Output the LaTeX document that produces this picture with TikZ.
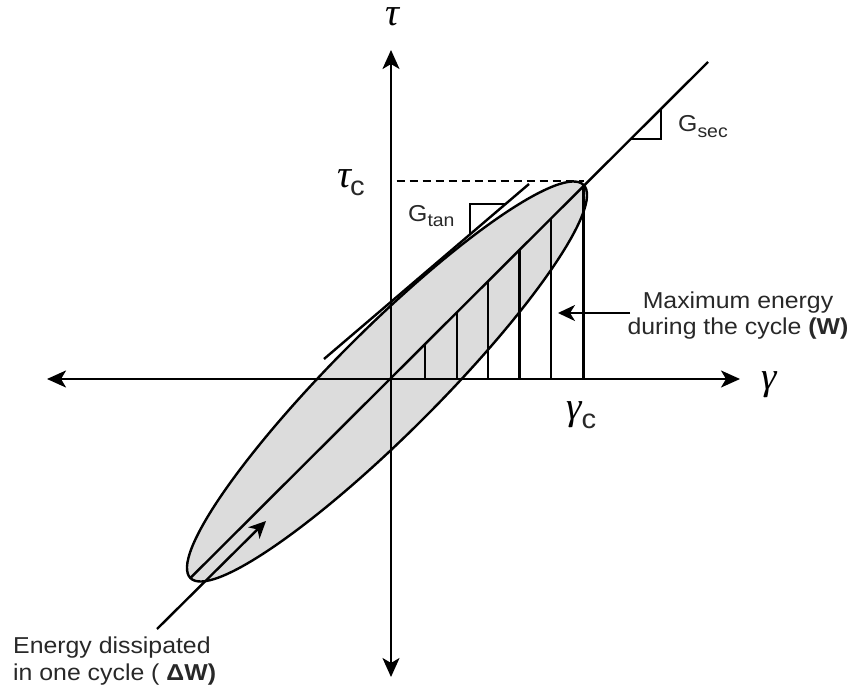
\documentclass[tikz,border=0pt]{standalone}
\usepackage{fontspec}
\setmainfont{Liberation Sans}[FakeStretch=1.08]
\newfontfamily\grk{Liberation Serif}
\usetikzlibrary{arrows.meta,calc}
\definecolor{loopfill}{RGB}{220,220,220}
\definecolor{txt}{RGB}{40,40,40}
\tikzset{
  ln/.style={line width=2.4pt, line join=miter},
  axisline/.style={ln, {Stealth[length=19pt,width=17pt,inset=5pt]}-{Stealth[length=19pt,width=17pt,inset=5pt]}},
  ptr/.style={ln, -{Stealth[length=17pt,width=16pt,inset=5pt]}},
  lbl/.style={inner sep=0pt, text=txt, font=\fontsize{23}{26.5}\selectfont},
  sym/.style={inner sep=0pt, text=black, font=\fontsize{39}{39}\selectfont\grk\itshape},
}
\newcommand{\subc}[1]{\raisebox{#1}{\fontsize{27}{27}\selectfont\normalfont\color{txt}c}}
\newcommand{\subt}[2]{\raisebox{#1}{\fontsize{18}{18}\selectfont #2}}
\begin{document}
\begin{tikzpicture}[x=1pt,y=-1pt]
\useasboundingbox (0,0) rectangle (855,690);
% key points
\coordinate (O) at (391,379);
\coordinate (E) at (387,381.5);
\coordinate (xL) at (47,379);
\coordinate (xR) at (740,379);
\coordinate (yT) at (391,50);
\coordinate (yB) at (391,677);
\coordinate (tipLo) at (190.4,578);
\coordinate (tipHi) at (583.5,184.5);
\coordinate (secEnd) at (708,62);
\coordinate (tanS) at (324,359);
\coordinate (tanE) at (529,184);
\coordinate (tanA) at (470,234.4);
\coordinate (tanB) at (505.6,204);
\coordinate (secA) at (631.1,139);
\coordinate (secB) at (661,109.2);
\coordinate (dashL) at (396.5,181);
\coordinate (dashR) at (583.5,181);
\coordinate (gcB) at (583.5,379);
\coordinate (dwtail) at (157,629);
\coordinate (dwtip) at (266,521);
\coordinate (wtail) at (630,313);
\coordinate (wtip) at (558,313);
% loop fill
\fill[loopfill, rotate around={45:(E)}] (E) ellipse [x radius=278, y radius=52];
% hatching under the secant
\foreach \hx in {425,456.7,487.7,519.3,550.7}{
  \draw[ln] (\hx,379) -- (\hx,{578-(\hx-190.4)*0.9961});
}
\draw[ln] (gcB) -- (tipHi);
% axes
\draw[axisline] (xL) -- (xR);
\draw[axisline] (yB) -- (yT);
% loop outline
\draw[ln, rotate around={45:(E)}] (E) ellipse [x radius=278, y radius=52];
% secant and tangent
\draw[ln] (tipLo) -- (secEnd);
\draw[ln] (tanS) -- (tanE);
\draw[ln] (tanA) |- (tanB);
\draw[ln] (secA) -| (secB);
% dashed level
\draw[ln, dash pattern=on 8pt off 5pt] (dashL) -- (dashR);
% pointers
\draw[ptr] (dwtail) -- (dwtip);
\draw[ptr] (wtail) -- (wtip);
% labels
\node[sym, anchor=base] (tau) at (392,26) {τ};
\node[sym, anchor=base west] (tauc) at (337,188) {τ\kern-1pt\subc{-8pt}};
\node[sym, anchor=base] (gam) at (769,389) {γ};
\node[sym, anchor=base west] (gamc) at (566,419) {γ\subc{-9pt}};
\node[lbl, anchor=base west] (gtan) at (408,222) {G\subt{-5pt}{tan}};
\node[lbl, anchor=base west] (gsec) at (678,132) {G\subt{-6pt}{sec}};
\node[lbl, align=center, anchor=north] (wlbl) at (738,291.5) {Maximum energy\\during the cycle \textbf{(W)}};
\node[lbl, align=left, anchor=north west] (dwlbl) at (13,637) {Energy dissipated\\in one cycle ( \textbf{ΔW)}};
\end{tikzpicture}
\end{document}
